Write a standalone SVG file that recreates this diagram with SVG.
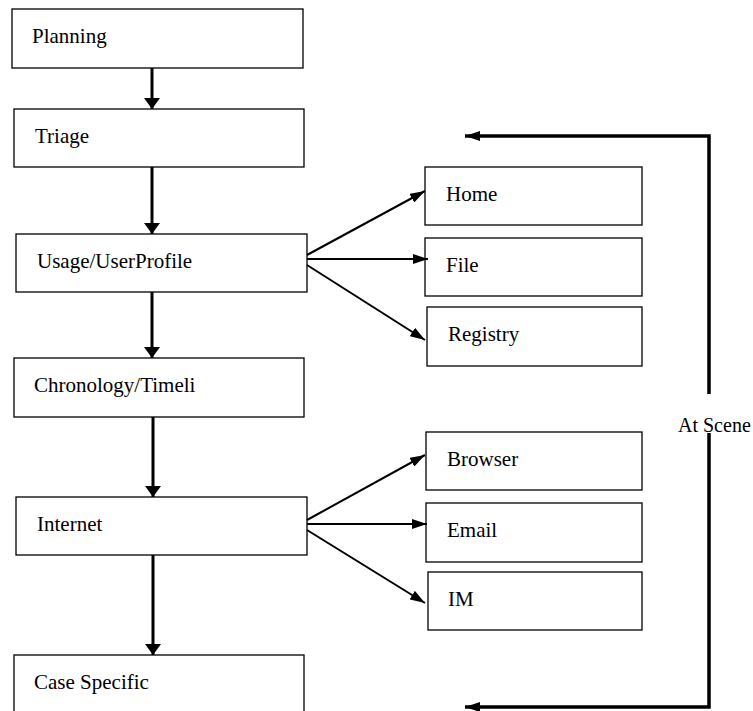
<svg xmlns="http://www.w3.org/2000/svg" width="753" height="711" viewBox="0 0 753 711">
  <style>
    .box { fill: #fff; stroke: #000; stroke-width: 1.3; }
    .lbl { font-family: 'Liberation Serif', 'DejaVu Serif', 'Times New Roman', serif; font-size: 21px; fill: #000; }
    .main { fill: none; stroke: #000; stroke-width: 3; }
    .branch { fill: none; stroke: #000; stroke-width: 2; }
    .loop { fill: none; stroke: #000; stroke-width: 3.5; }
  </style>
  <defs>
    <marker id="headDown" viewBox="0 0 11 16" refX="11" refY="8" markerWidth="11" markerHeight="16" markerUnits="userSpaceOnUse" orient="auto">
      <path d="M0,0 L11,8 L0,16 Z" fill="#000"/>
    </marker>
    <marker id="headSide" viewBox="0 0 15 10" refX="15" refY="5" markerWidth="15" markerHeight="10" markerUnits="userSpaceOnUse" orient="auto">
      <path d="M0,0 L15,5 L0,10 Z" fill="#000"/>
    </marker>
  </defs>

  <rect width="753" height="711" fill="#fff"/>

  <g font-family="Liberation Serif, DejaVu Serif, serif">
    <!-- main column -->
    <g id="planning"><rect class="box" x="12" y="9" width="291" height="59"/><text class="lbl" x="32" y="43">Planning</text></g>
    <g id="triage"><rect class="box" x="14" y="109" width="290" height="58"/><text class="lbl" x="35" y="143">Triage</text></g>
    <g id="usage"><rect class="box" x="16" y="234" width="291" height="58"/><text class="lbl" x="37" y="268">Usage/UserProfile</text></g>
    <g id="chronology"><rect class="box" x="14" y="358" width="290" height="59"/><text class="lbl" x="34" y="392">Chronology/Timeli</text></g>
    <g id="internet"><rect class="box" x="16" y="497" width="291" height="58"/><text class="lbl" x="37" y="531">Internet</text></g>
    <g id="case-specific"><rect class="box" x="14" y="655" width="290" height="70"/><text class="lbl" x="34" y="689">Case Specific</text></g>

    <!-- usage branches -->
    <g id="home"><rect class="box" x="425" y="167" width="217" height="58"/><text class="lbl" x="446" y="201">Home</text></g>
    <g id="file"><rect class="box" x="425" y="238" width="217" height="58"/><text class="lbl" x="446" y="272">File</text></g>
    <g id="registry"><rect class="box" x="427" y="307" width="215" height="59"/><text class="lbl" x="448" y="341">Registry</text></g>

    <!-- internet branches -->
    <g id="browser"><rect class="box" x="426" y="432" width="216" height="58"/><text class="lbl" x="447" y="466">Browser</text></g>
    <g id="email"><rect class="box" x="426" y="503" width="216" height="59"/><text class="lbl" x="447" y="537">Email</text></g>
    <g id="im"><rect class="box" x="428" y="572" width="214" height="58"/><text class="lbl" x="448" y="606">IM</text></g>

    <g id="at-scene"><text class="lbl" x="678" y="432" style="font-size:20px">At Scene</text></g>
  </g>

  <g id="connectors">
    <line class="main" x1="152" y1="68" x2="152" y2="109" marker-end="url(#headDown)"/>
    <line class="main" x1="152" y1="167" x2="152" y2="234" marker-end="url(#headDown)"/>
    <line class="main" x1="152" y1="292" x2="152" y2="358" marker-end="url(#headDown)"/>
    <line class="main" x1="153" y1="417" x2="153" y2="497" marker-end="url(#headDown)"/>
    <line class="main" x1="153" y1="555" x2="153" y2="655" marker-end="url(#headDown)"/>

    <line class="branch" x1="307" y1="255" x2="425" y2="191" marker-end="url(#headSide)"/>
    <line class="branch" x1="307" y1="259" x2="428" y2="259" marker-end="url(#headSide)"/>
    <line class="branch" x1="307" y1="265" x2="425" y2="340" marker-end="url(#headSide)"/>

    <line class="branch" x1="307" y1="520" x2="425" y2="455" marker-end="url(#headSide)"/>
    <line class="branch" x1="307" y1="524" x2="427" y2="524" marker-end="url(#headSide)"/>
    <line class="branch" x1="307" y1="530" x2="425" y2="603" marker-end="url(#headSide)"/>

    <polyline class="loop" points="709,394 709,136 465,136" marker-end="url(#headSide)"/>
    <polyline class="loop" points="709,433 709,707 465,707" marker-end="url(#headSide)"/>
  </g>
</svg>
